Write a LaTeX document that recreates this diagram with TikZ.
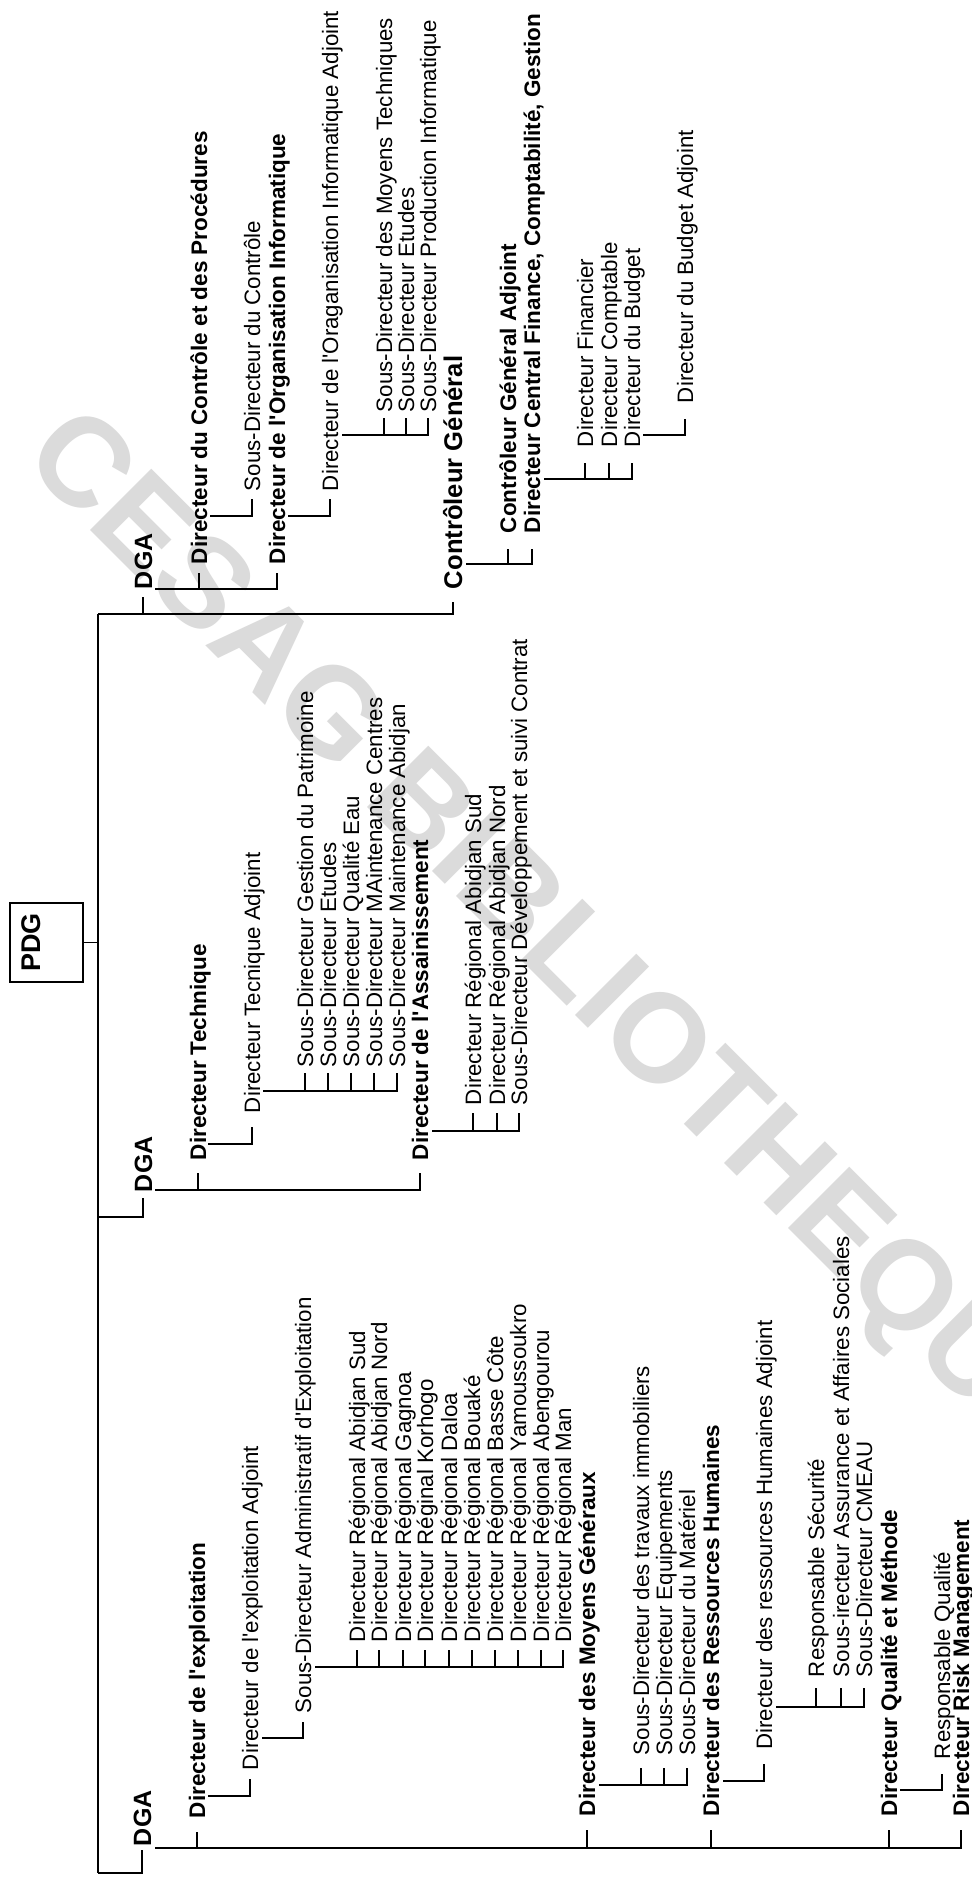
\documentclass[tikz,border=0pt]{standalone}
\usepackage{fontspec}
\setmainfont{Liberation Sans}
\definecolor{wm}{gray}{0.86}
\newcommand\qs{\textquotesingle}
\begin{document}
\begin{tikzpicture}[x=1pt,y=-1pt,
  conn/.style={line width=1.8pt},
  lbl/.style={rotate=90, anchor=west, inner sep=0pt, outer sep=0pt,
    text height=16pt, text depth=0pt, font=\fontsize{22.3}{26}\selectfont},
  blbl/.style={lbl, font=\fontsize{22.5}{26}\selectfont\bfseries},
  biglbl/.style={lbl, text height=18pt, font=\fontsize{25}{30}\selectfont\bfseries},
  cglbl/.style={lbl, text height=18.3pt, font=\fontsize{25.6}{30}\selectfont\bfseries},
  wmark/.style={rotate=-45, inner sep=0pt, text=wm,
    font=\fontsize{126}{130}\selectfont\bfseries}]
\path[use as bounding box, fill=white] (0,0) rectangle (972,1880);

% library stamp behind the chart
\node[wmark] (stamp) at (550,945) {CESAG BIBLIOTHEQUE};

% ---- PDG and the main trunk
\node[draw, line width=1.8pt, minimum width=73pt, minimum height=79pt, inner sep=0pt] (pdg) at (46.5,942.5) {};
\node[rotate=90, inner sep=0pt, font=\fontsize{27}{30}\selectfont\bfseries] (pdgt) at (31,942.5) {PDG};
\coordinate (rootTop) at (98,614);
\coordinate (rootMid) at (98,1217);
\coordinate (rootBot) at (98,1873);
\draw[conn] (rootTop) -- (rootBot);
\draw[conn] (pdg.east) -- (pdg.east -| rootTop);

% ---- first DGA : control, IT, finance
\node[biglbl] (dga1) at (143,589) {DGA};
\node[blbl] (dcp) at (199,564) {Directeur du Contrôle et des Procédures};
\node[blbl] (doi) at (277,564) {Directeur de l\qs Organisation Informatique};
\node[lbl] (sdc) at (252,491) {Sous-Directeur du Contrôle};
\node[lbl] (doia) at (330,491) {Directeur de l\qs Oraganisation Informatique Adjoint};
\node[lbl] (smt) at (384,412) {Sous-Directeur des Moyens Techniques};
\node[lbl] (sde1) at (406,412) {Sous-Directeur Etudes};
\node[lbl] (spi) at (428,412) {Sous-Directeur Production Informatique};
\node[cglbl] (cg) at (453,589) {Contrôleur Général};
\node[blbl] (cga) at (508,533) {Contrôleur Général Adjoint};
\node[blbl] (dcf) at (532,533) {Directeur Central Finance, Comptabilité, Gestion};
\node[lbl] (dfi) at (585,447) {Directeur Financier};
\node[lbl] (dco) at (609,447) {Directeur Comptable};
\node[lbl] (dbu) at (632,447) {Directeur du Budget};
\node[lbl] (dbua) at (685,403) {Directeur du Budget Adjoint};

\draw[conn] (rootTop) -| ([yshift=-8pt]dga1.west);
\draw[conn] (rootTop) -| ([yshift=-13pt]cg.west);
\coordinate (b-dga1) at (155,589);
\foreach \k in {dcp,doi} \draw[conn] (b-dga1) -| ([yshift=-8.5pt]\k.west);
\coordinate (b-dcp) at (210,516);
\draw[conn] (b-dcp) -| ([yshift=-8pt]sdc.west);
\coordinate (b-doi) at (288,516);
\draw[conn] (b-doi) -| ([yshift=-8pt]doia.west);
\coordinate (b-doia) at (342,435);
\foreach \k in {smt,sde1,spi} \draw[conn] (b-doia) -| ([yshift=-6pt]\k.west);
\coordinate (b-cg) at (466,564);
\foreach \k in {cga,dcf} \draw[conn] (b-cg) -| ([yshift=-16pt]\k.west);
\coordinate (b-dcf) at (544,479);
\foreach \k in {dfi,dco,dbu} \draw[conn] (b-dcf) -| ([yshift=-16pt]\k.west);
\coordinate (b-dbu) at (643,435);
\draw[conn] (b-dbu) -| ([yshift=-16pt]dbua.west);

% ---- second DGA : technical and sanitation
\node[biglbl] (dga2) at (143,1192) {DGA};
\node[blbl] (dte) at (198,1160) {Directeur Technique};
\node[lbl] (dta) at (252,1113) {Directeur Tecnique Adjoint};
\node[lbl] (sgp) at (305,1067) {Sous-Directeur Gestion du Patrimoine};
\node[lbl] (sde2) at (328,1067) {Sous-Directeur Etudes};
\node[lbl] (sqe) at (351,1067) {Sous-Directeur Qualité Eau};
\node[lbl] (smc) at (374,1067) {Sous-Directeur MAintenance Centres};
\node[lbl] (sma) at (397,1067) {Sous-Directeur Maintenance Abidjan};
\node[blbl] (das) at (420,1160) {Directeur de l\qs Assainissement};
\node[lbl] (ras) at (473,1105) {Directeur Régional Abidjan Sud};
\node[lbl] (ran) at (497,1105) {Directeur Régional Abidjan Nord};
\node[lbl] (sdv) at (519,1105) {Sous-Directeur Développement et suivi Contrat};

\draw[conn] (rootMid) -| ([yshift=-6pt]dga2.west);
\coordinate (b-dga2) at (155,1190);
\foreach \k in {dte,das} \draw[conn] (b-dga2) -| ([yshift=-13pt]\k.west);
\coordinate (b-dte) at (208,1144);
\draw[conn] (b-dte) -| ([yshift=-14pt]dta.west);
\coordinate (b-dta) at (263,1091);
\foreach \k in {sgp,sde2,sqe,smc,sma} \draw[conn] (b-dta) -| ([yshift=-6pt]\k.west);
\coordinate (b-das) at (432,1131);
\foreach \k in {ras,ran,sdv} \draw[conn] (b-das) -| ([yshift=-8pt]\k.west);

% ---- third DGA : operations and support functions
\node[biglbl] (dga3) at (142,1846) {DGA};
\node[blbl] (dex) at (197,1818) {Directeur de l\qs exploitation};
\node[lbl] (dexa) at (250,1770) {Directeur de l\qs exploitation Adjoint};
\node[lbl] (sdae) at (303,1713) {Sous-Directeur Administratif d\qs Exploitation};
\node[lbl] (r1) at (357,1642) {Directeur Régional Abidjan Sud};
\node[lbl] (r2) at (379,1642) {Directeur Régional Abidjan Nord};
\node[lbl] (r3) at (403,1642) {Directeur Régional Gagnoa};
\node[lbl] (r4) at (425,1642) {Directeur Réginal Korhogo};
\node[lbl] (r5) at (449,1642) {Directeur Régional Daloa};
\node[lbl] (r6) at (472,1642) {Directeur Régional Bouaké};
\node[lbl] (r7) at (495,1642) {Directeur Régional Basse Côte};
\node[lbl] (r8) at (518,1642) {Directeur Régional Yamoussoukro};
\node[lbl] (r9) at (541,1642) {Directeur Régional Abengourou};
\node[lbl] (r10) at (563,1642) {Directeur Régional Man};
\node[blbl] (dmg) at (587,1816) {Directeur des Moyens Généraux};
\node[lbl] (sti) at (641,1755) {Sous-Directeur des travaux immobiliers};
\node[lbl] (seq) at (664,1755) {Sous-Directeur Equipements};
\node[lbl] (smat) at (687,1755) {Sous-Directeur du Matériel};
\node[blbl] (drh) at (711,1816) {Directeur des Ressources Humaines};
\node[lbl] (drha) at (764,1749.5) {Directeur des ressources Humaines Adjoint};
\node[lbl] (rsec) at (816,1677) {Responsable Sécurité};
\node[lbl] (saas) at (841,1677) {Sous-irecteur Assurance et Affaires Sociales};
\node[lbl] (scm) at (864,1677) {Sous-Directeur CMEAU};
\node[blbl] (dqm) at (889,1816) {Directeur Qualité et Méthode};
\node[lbl] (rq) at (942,1759) {Responsable Qualité};
\node[blbl] (drm) at (961,1816) {Directeur Risk Management};

\draw[conn] (rootBot) -| ([yshift=-4pt]dga3.west);
\coordinate (b-dga3) at (155,1848);
\foreach \k in {dex,dmg,drh,dqm,drm} \draw[conn] (b-dga3) -| ([yshift=-14pt]\k.west);
\coordinate (b-dex) at (208,1796);
\draw[conn] (b-dex) -| ([yshift=-9pt]dexa.west);
\coordinate (b-dexa) at (262,1738);
\draw[conn] (b-dexa) -| ([yshift=-9pt]sdae.west);
\coordinate (b-sdae) at (315,1667);
\foreach \k in {r1,r2,r3,r4,r5,r6,r7,r8,r9,r10} \draw[conn] (b-sdae) -| ([yshift=-8pt]\k.west);
\coordinate (b-dmg) at (599,1785);
\foreach \k in {sti,seq,smat} \draw[conn] (b-dmg) -| ([yshift=-13pt]\k.west);
\coordinate (b-drh) at (723,1781);
\draw[conn] (b-drh) -| ([yshift=-14.5pt]drha.west);
\coordinate (b-drha) at (776,1707);
\foreach \k in {rsec,saas,scm} \draw[conn] (b-drha) -| ([yshift=-11pt]\k.west);
\coordinate (b-dqm) at (900,1790);
\draw[conn] (b-dqm) -| ([yshift=-14.5pt]rq.west);
\end{tikzpicture}
\end{document}
